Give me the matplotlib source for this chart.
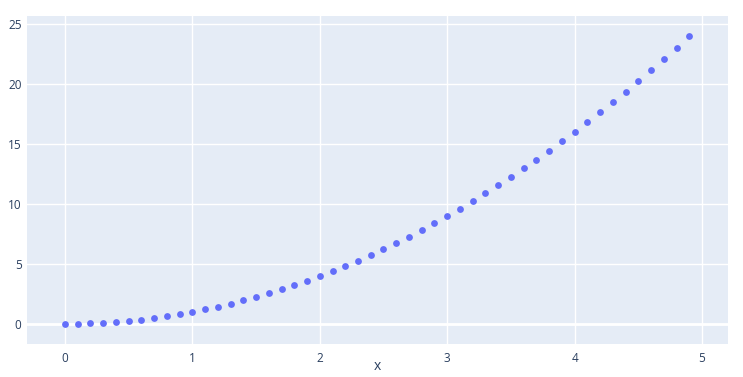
import matplotlib
matplotlib.use('Agg')
import matplotlib.pyplot as plt
from matplotlib.transforms import blended_transform_factory

plt.rcParams['font.family'] = ['Open Sans', 'DejaVu Sans']

# data
x_vals = [0.0, 0.1, 0.2, 0.3, 0.4, 0.5, 0.6, 0.7, 0.8, 0.9,
          1.0, 1.1, 1.2, 1.3, 1.4, 1.5, 1.6, 1.7, 1.8, 1.9,
          2.0, 2.1, 2.2, 2.3, 2.4, 2.5, 2.6, 2.7, 2.8, 2.9,
          3.0, 3.1, 3.2, 3.3, 3.4, 3.5, 3.6, 3.7, 3.8, 3.9,
          4.0, 4.1, 4.2, 4.3, 4.4, 4.5, 4.6, 4.7, 4.8, 4.9]
y_vals = [0.0, 0.01, 0.04, 0.09, 0.16, 0.25, 0.36, 0.49, 0.64, 0.81,
          1.0, 1.21, 1.44, 1.69, 1.96, 2.25, 2.56, 2.89, 3.24, 3.61,
          4.0, 4.41, 4.84, 5.29, 5.76, 6.25, 6.76, 7.29, 7.84, 8.41,
          9.0, 9.61, 10.24, 10.89, 11.56, 12.25, 12.96, 13.69, 14.44, 15.21,
          16.0, 16.81, 17.64, 18.49, 19.36, 20.25, 21.16, 22.09, 23.04, 24.01]
x_ticks = [0, 1, 2, 3, 4, 5]
y_ticks = [0, 5, 10, 15, 20, 25]

fig = plt.figure(figsize=(7.43, 3.77), dpi=100)
ax = fig.add_axes([27/743, 33/377, 701/743, 328/377])
ax.set_facecolor('#e5ecf6')

ax.scatter(x_vals, y_vals, s=24, color='#636efa', zorder=3, linewidths=0)

ax.set_xlim(-0.298, 5.204)
ax.set_ylim(-1.67, 25.67)
ax.set_xticks(x_ticks)
ax.set_yticks(y_ticks)
ax.grid(True, color='white', linewidth=1)
ax.set_axisbelow(True)
ax.axhline(0, color='white', linewidth=2, zorder=1)

for s in ax.spines.values():
    s.set_visible(False)
ax.tick_params(length=0, labelsize=8.5, labelcolor='#2a3f5f', pad=6)
ax.tick_params(axis='y', pad=4)

# x title centred under the plot area, right at the bottom edge
trans = blended_transform_factory(ax.transAxes, fig.transFigure)
ax.text(0.5, 3/377, 'x', transform=trans, ha='center', va='bottom',
        fontsize=10, color='#2a3f5f')

fig.savefig('out.png', dpi=100)
